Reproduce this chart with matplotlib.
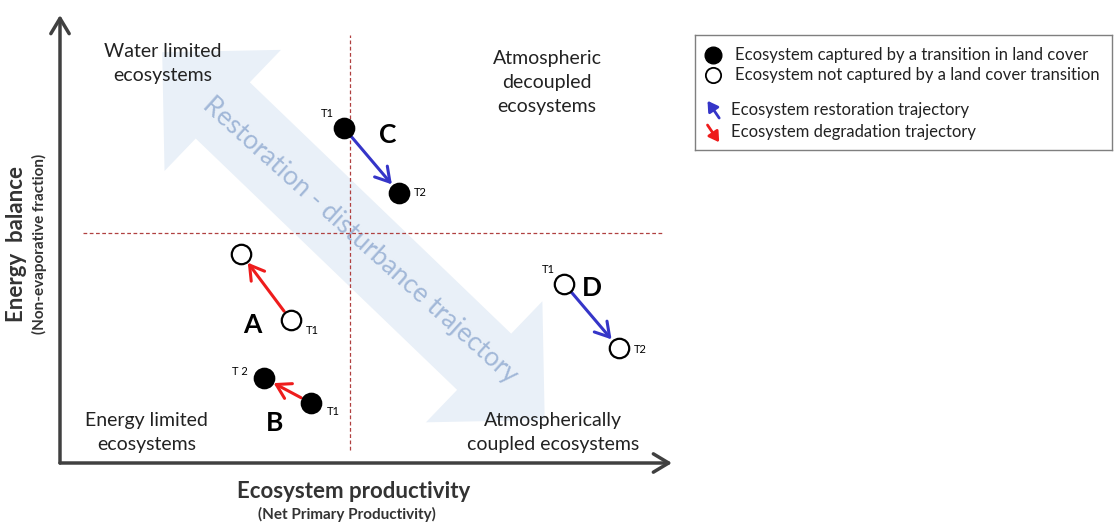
import matplotlib.pyplot as plt
from matplotlib.patches import Polygon
from matplotlib.transforms import IdentityTransform
import numpy as np

plt.rcParams['font.family'] = ['Lato', 'DejaVu Sans']

# ecosystems, values at time T1 and T2 (axis units 0-10)
ecosystems = ['A', 'B', 'C', 'D']
prod_t1 = [3.77, 4.10, 4.64, 8.24]
prod_t2 = [2.96, 3.33, 5.54, 9.13]
energy_t1 = [3.19, 1.34, 7.48, 4.00]
energy_t2 = [4.67, 1.90, 6.03, 2.57]
captured = [False, True, True, False]
trajectory = ['degradation', 'degradation', 'restoration', 'restoration']
letter_x = [3.15, 3.50, 5.36, 8.69]
letter_y = [3.08, 0.89, 7.32, 3.91]

# quadrant split
prod_split = 4.74
energy_split = 5.13

# big restoration-disturbance arrow (axis units)
big_start = (1.67, 9.17)
big_end = (7.92, 0.96)

quadrant_labels = ['Water limited\necosystems', 'Atmospheric\ndecoupled\necosystems',
                   'Energy limited\necosystems', 'Atmospherically\ncoupled ecosystems']
quadrant_x = [1.68, 7.96, 1.42, 8.06]
quadrant_y = [8.92, 8.50, 0.68, 0.68]

legend_labels = ['Ecosystem captured by a transition in land cover',
                 'Ecosystem not captured by a land cover transition',
                 'Ecosystem restoration trajectory',
                 'Ecosystem degradation trajectory']

colors = {'restoration': '#3535c8', 'degradation': '#ee1c1c'}
dark = '#333333'

W, H = 1120, 526
fig = plt.figure(figsize=(W / 100, H / 100), dpi=100)
x0, y0, x1, y1 = 60, 463, 672, 15
ax = fig.add_axes([x0 / W, 1 - y0 / H, (x1 - x0) / W, (y0 - y1) / H])
ax.set_xlim(0, 10)
ax.set_ylim(0, 10)
ax.axis('off')

# big double arrow, built in pixel space so the head keeps its shape
p1 = ax.transData.transform(big_start)
p2 = ax.transData.transform(big_end)
u = (p2 - p1) / np.linalg.norm(p2 - p1)
n = np.array([-u[1], u[0]])
L = np.linalg.norm(p2 - p1)
w, hw, hl = 39, 84, 84
local = [(0, 0), (hl, hw), (hl, w), (L - hl, w), (L - hl, hw), (L, 0),
         (L - hl, -hw), (L - hl, -w), (hl, -w), (hl, -hw)]
pts = [p1 + a * u + b * n for a, b in local]
ax.add_patch(Polygon(pts, closed=True, transform=IdentityTransform(),
                     facecolor='#e9f0f8', edgecolor='none', zorder=0, clip_on=False))
ax.text(4.90, 4.98, 'Restoration - disturbance trajectory', rotation=-42,
        rotation_mode='anchor', ha='center', va='center', fontsize=19,
        color='#a2b8d8', zorder=1)

# axes arrows
for tip in [(0, 10), (10, 0)]:
    ax.annotate('', xy=tip, xytext=(0, 0), annotation_clip=False,
                arrowprops=dict(arrowstyle='->,head_length=0.5,head_width=0.3',
                                lw=2.5, color='#404040', mutation_scale=22,
                                shrinkA=0, shrinkB=0))

# quadrant dividers
ax.plot([prod_split, prod_split], [0.29, 9.55], ls=(0, (3, 2)), color='#b04040', lw=0.9, zorder=1)
ax.plot([0.38, 9.84], [energy_split, energy_split], ls=(0, (3, 2)), color='#b04040', lw=0.9, zorder=1)

for txt, qx, qy in zip(quadrant_labels, quadrant_x, quadrant_y):
    ax.text(qx, qy, txt, ha='center', va='center', fontsize=14, color='#222222',
            linespacing=1.5)

# ecosystem trajectories
t1_off = [(22, -10), (22, -9), (-17, 14), (-16, 14)]
t2_off = [None, (-24, 6), (21, 0), (22, -2)]
for i, eco in enumerate(ecosystems):
    c = colors[trajectory[i]]
    ax.annotate('', xy=(prod_t2[i], energy_t2[i]), xytext=(prod_t1[i], energy_t1[i]),
                arrowprops=dict(arrowstyle='->,head_length=0.5,head_width=0.3',
                                color=c, lw=2.2, mutation_scale=20,
                                shrinkA=8, shrinkB=8), zorder=2)
    fc = 'black' if captured[i] else 'white'
    ax.plot([prod_t1[i], prod_t2[i]], [energy_t1[i], energy_t2[i]], 'o', ms=14,
            mfc=fc, mec='black', mew=1.6, ls='none', zorder=3)
    ax.annotate('T1', (prod_t1[i], energy_t1[i]), xytext=t1_off[i],
                textcoords='offset pixels', ha='center', va='center', fontsize=8)
    if t2_off[i] is not None:
        ax.annotate('T 2' if eco == 'B' else 'T2', (prod_t2[i], energy_t2[i]),
                    xytext=t2_off[i], textcoords='offset pixels',
                    ha='center', va='center', fontsize=8)
    ax.text(letter_x[i], letter_y[i], eco, ha='center', va='center',
            fontsize=19, fontweight='bold', color='black')

# axis titles
fig.text(354 / W, 1 - 491 / H, 'Ecosystem productivity', ha='center', va='center',
         fontsize=16, fontweight='bold', color=dark)
fig.text(347 / W, 1 - 514 / H, '(Net Primary Productivity)', ha='center', va='center',
         fontsize=11, fontweight='bold', color=dark)
fig.text(17 / W, 1 - 244 / H, 'Energy  balance', ha='center', va='center', rotation=90,
         fontsize=16, fontweight='bold', color=dark)
fig.text(39 / W, 1 - 244 / H, '(Non-evaporative fraction)', ha='center', va='center',
         rotation=90, fontsize=11, fontweight='bold', color=dark)

# legend box
lx0, ly0, lx1, ly1 = 695, 35, 1112, 150
lax = fig.add_axes([lx0 / W, 1 - ly1 / H, (lx1 - lx0) / W, (ly1 - ly0) / H])
lax.set_xlim(0, 1)
lax.set_ylim(0, 1)
lax.set_xticks([])
lax.set_yticks([])
for s in lax.spines.values():
    s.set_color('#7f7f7f')
    s.set_linewidth(1.0)
rows = [0.826, 0.652, 0.348, 0.157]
lax.plot(0.043, rows[0], 'o', ms=12, mfc='black', mec='black')
lax.plot(0.043, rows[1], 'o', ms=11, mfc='white', mec='black', mew=1.3)
lax.annotate('', xy=(0.030, rows[2] + 0.08), xytext=(0.058, rows[2] - 0.07),
             arrowprops=dict(arrowstyle='-|>,head_length=0.5,head_width=0.3',
                             color=colors['restoration'], lw=2, mutation_scale=12,
                             shrinkA=0, shrinkB=0))
lax.annotate('', xy=(0.058, rows[3] - 0.09), xytext=(0.030, rows[3] + 0.06),
             arrowprops=dict(arrowstyle='-|>,head_length=0.5,head_width=0.3',
                             color=colors['degradation'], lw=2, mutation_scale=12,
                             shrinkA=0, shrinkB=0))
for j, lab in enumerate(legend_labels):
    lx = 0.096 if j < 2 else 0.086
    lax.text(lx, rows[j], lab, ha='left', va='center', fontsize=12, color='#222222')

fig.savefig('out.png', dpi=100)
